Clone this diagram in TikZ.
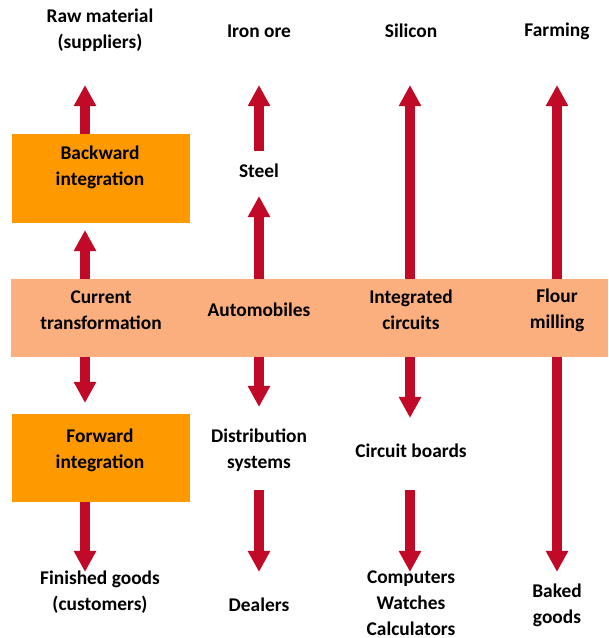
\documentclass[tikz,border=0pt]{standalone}
\usepackage{fontspec}
\setmainfont{Carlito}
\usetikzlibrary{arrows.meta}

\definecolor{arrowred}{HTML}{C00A28}
\definecolor{bandpeach}{HTML}{FBAF7E}
\definecolor{boxorange}{HTML}{FF9900}

\tikzset{
  lbl/.style={align=center, font=\fontsize{13.8}{18.5}\selectfont\bfseries, inner sep=0pt},
  intbox/.style={fill=boxorange, minimum width=4.45cm, minimum height=2.2cm, inner sep=0pt},
  bigarrow/.style={draw=arrowred, line width=0.25cm, -{Triangle[width=0.53cm,length=0.53cm]}}
}

\begin{document}
\begin{tikzpicture}[x=0.025cm, y=-0.025cm]
        \useasboundingbox (0,0) rectangle (608,638);
        % Band and boxes
        \node[fill=bandpeach, minimum width=14.925cm, minimum height=1.95cm, inner sep=0pt] (band) at (309.5,318) {};
        \node[intbox] (back) at (101,178.5) {};
        \node[intbox] (fwd) at (101,458) {};
        % Labels
        \foreach \name/\x/\y/\txt in {raw/100/30/{Raw material\\(suppliers)}, iron/259/31/{Iron ore},
                silicon/411/31/{Silicon}, farming/557/31/{Farming},
                backtxt/100/167/{Backward\\integration}, steel/259/171/{Steel},
                current/101/310/{Current\\transformation}, auto/259/310/{Automobiles},
                ic/411/310/{Integrated\\circuits}, flour/557/310/{Flour\\milling},
                fwdtxt/100/450/{Forward\\integration}, dist/259/450/{Distribution\\systems},
                boards/411/451/{Circuit boards},
                finished/100/592/{Finished goods\\(customers)}, dealers/259/605/{Dealers},
                computers/411/603/{Computers\\Watches\\Calculators}, baked/557/605/{Baked\\goods}}
            \node[lbl] (\name) at (\x,\y) {\txt};
        % Arrow ends
        \foreach \name/\x/\y in {top1/85/85, top2/259/85, top3/410/85, top4/557/85,
                bot1/85/572, bot2/259/572, bot3/410/572, bot4/557/572,
                up1/85/230, up2/259/196, down1/85/403, down2/259/407, down3/410/418,
                steelout/259/151, distout/259/490, boardsout/410/490}
            \coordinate (\name) at (\x,\y);
        % Arrows up
        \draw[bigarrow] (back.north -| top1) -- (top1);
        \draw[bigarrow] (band.north -| up1) -- (up1);
        \draw[bigarrow] (steelout) -- (top2);
        \draw[bigarrow] (band.north -| up2) -- (up2);
        \draw[bigarrow] (band.north -| top3) -- (top3);
        \draw[bigarrow] (band.north -| top4) -- (top4);
        % Arrows down
        \draw[bigarrow] (band.south -| down1) -- (down1);
        \draw[bigarrow] (fwd.south -| bot1) -- (bot1);
        \draw[bigarrow] (band.south -| down2) -- (down2);
        \draw[bigarrow] (distout) -- (bot2);
        \draw[bigarrow] (band.south -| down3) -- (down3);
        \draw[bigarrow] (boardsout) -- (bot3);
        \draw[bigarrow] (band.south -| bot4) -- (bot4);
    \end{tikzpicture}
\end{document}
